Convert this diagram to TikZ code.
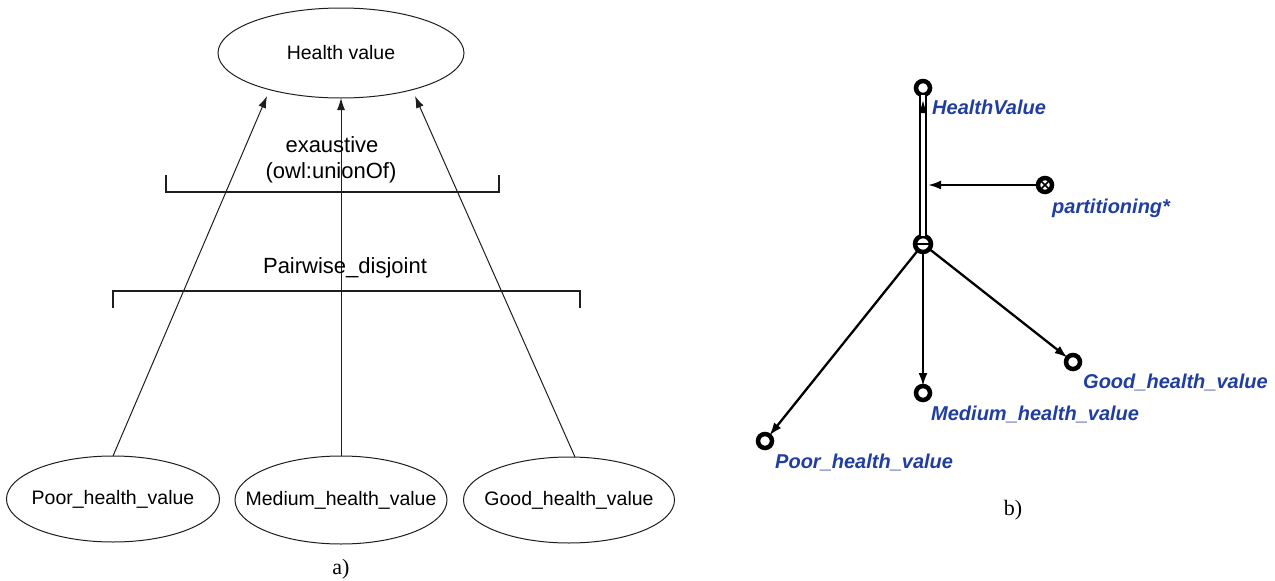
\documentclass[tikz,border=0pt]{standalone}
\usepackage{fontspec}
\setmainfont{Liberation Sans}
\newfontfamily\capfont{Liberation Serif}
\usetikzlibrary{shapes.geometric,arrows.meta}
\definecolor{owlblue}{RGB}{32,62,160}
\definecolor{ink}{RGB}{30,30,30}
\tikzset{
  concept/.style={ellipse, draw=ink, line width=1pt, inner xsep=-40pt, inner ysep=0pt, outer sep=0pt,
    font=\fontsize{19.5}{22}\selectfont},
  note/.style={font=\fontsize{22}{26}\selectfont, align=center, inner sep=0pt},
  isa/.style={draw=ink, line width=1pt, -{Latex[length=12pt,width=8pt]}},
  bracket/.style={draw=ink, line width=1.2pt},
  cls/.style={circle, draw=black, line width=4.5pt, minimum size=14pt, inner sep=0pt, outer sep=0pt},
  lbl/.style={text=owlblue, font=\fontsize{20}{24}\selectfont\bfseries\itshape, inner sep=0pt, anchor=west},
  rel/.style={draw=black, line width=2.3pt, -{Latex[length=13pt,width=9pt]}},
  caption/.style={font=\capfont\fontsize{22}{26}\selectfont, inner sep=0pt}
}
\begin{document}
\begin{tikzpicture}[x=1pt,y=-1pt]
\useasboundingbox (0,0) rectangle (1275,581);

% ---- (a) class hierarchy with ellipses ----
\node[concept, minimum width=246pt, minimum height=90pt] (top) at (341,53) {Health value};
\node[concept, minimum width=213pt, minimum height=86pt] (poor) at (113,499) {Poor\_health\_value};
\node[concept, minimum width=212pt, minimum height=88pt] (med) at (341,500) {Medium\_health\_value};
\node[concept, minimum width=211pt, minimum height=86pt] (good) at (569,500) {Good\_health\_value};

\coordinate (poortop) at (113,456);
\coordinate (goodtop) at (575,457);
\coordinate (toppl) at (267,96);
\coordinate (toppr) at (415,96);
\draw[isa] (poortop) -- (toppl);
\draw[isa] (med.north) -- (top.south);
\draw[isa] (goodtop) -- (toppr);

\node[note] (exh) at (332,145) {exaustive};
\node[note] (union) at (331,173) {(owl:unionOf)};
\draw[bracket] (166,175) -- (166,192) -- (499,192) -- (499,175);

\node[note] (pw) at (345,268) {Pairwise\_disjoint};
\draw[bracket] (113,308) -- (113,291) -- (580,291) -- (580,308);

\node[caption] (capa) at (341,569) {a)};

% ---- (b) partition diagram ----
\node[cls] (hv) at (923,88) {};
\node[cls] (part) at (1045,185) {};
\node[cls, minimum size=16pt] (dis) at (923,244) {};
\node[cls] (pc) at (765,441) {};
\node[cls] (mc) at (923,393) {};
\node[cls] (gc) at (1073,362) {};

% marks inside the partition and disjoint-union circles
\draw[line width=1.6pt] (part.north west) -- (part.south east);
\draw[line width=1.6pt] (part.north east) -- (part.south west);
\draw[line width=1.8pt] (dis.west) -- (dis.east);

% double subclass line with its arrow tip
\draw[line width=1.8pt, double distance=4.5pt] (dis.north) -- (hv.south);
\fill (919.5,113) -- (923,101) -- (926.5,113) -- cycle;

\coordinate (partend) at (928,185);
\draw[rel] (part.west) -- (partend);

\draw[rel] (dis) -- (pc);
\draw[rel] (dis) -- (mc);
\draw[rel] (dis) -- (gc);

\node[lbl] (hvl) at (932,107) {HealthValue};
\node[lbl] (partl) at (1052,208) {partitioning*};
\node[lbl] (pl) at (775,462) {Poor\_health\_value};
\node[lbl] (ml) at (931,414) {Medium\_health\_value};
\node[lbl] (gl) at (1083,382) {Good\_health\_value};

\node[caption] (capb) at (1013,510) {b)};
\end{tikzpicture}
\end{document}
